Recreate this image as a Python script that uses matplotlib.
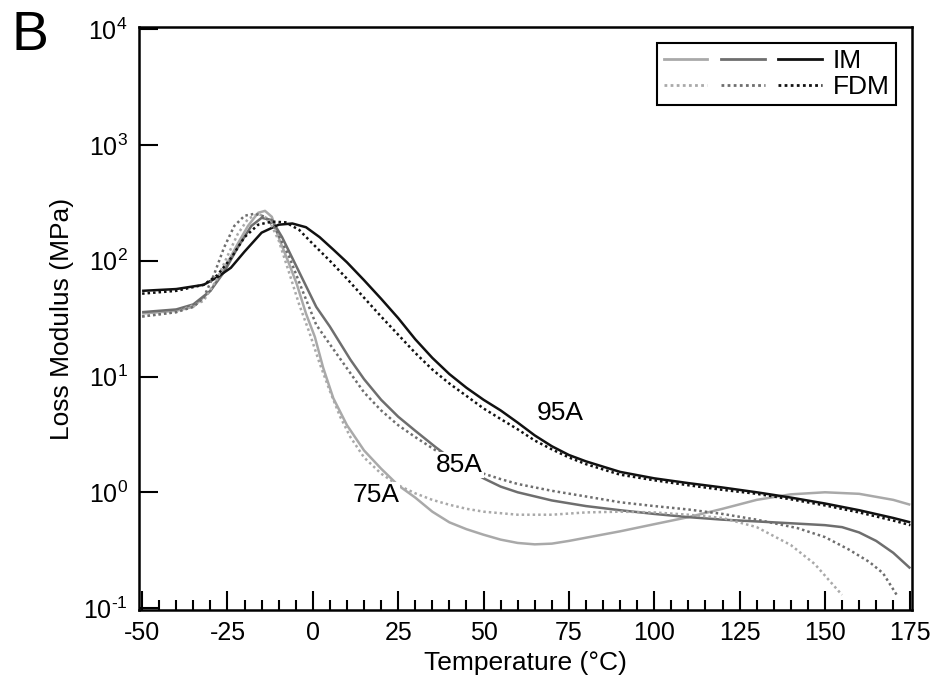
import numpy as np
import matplotlib
matplotlib.use('Agg')
import matplotlib.pyplot as plt
from matplotlib.legend_handler import HandlerTuple
from matplotlib.lines import Line2D
from matplotlib.ticker import LogLocator, MultipleLocator, NullLocator, FuncFormatter

plt.rcParams['font.family'] = ['Liberation Sans', 'DejaVu Sans']
plt.rcParams['mathtext.fontset'] = 'custom'
plt.rcParams['mathtext.rm'] = 'Liberation Sans'
plt.rcParams['axes.unicode_minus'] = False

# 95A injection moulded / printed
t95_im = [-50, -40, -32, -28, -24, -20, -15, -10, -6, -2, 2, 6, 10, 15, 20, 25, 30, 35,
          40, 45, 50, 55, 60, 65, 70, 75, 80, 90, 100, 110, 120, 130, 140, 150, 160, 170, 175]
e95_im = [55, 57, 62, 72, 87, 120, 175, 205, 210, 195, 160, 125, 97, 68, 47, 32, 21, 14.5,
          10.5, 8.0, 6.3, 5.1, 4.0, 3.1, 2.5, 2.1, 1.85, 1.5, 1.32, 1.2, 1.1, 1.0, 0.9, 0.8, 0.7, 0.6, 0.55]
t95_fdm = [-50, -40, -32, -28, -24, -20, -16, -12, -8, -4, 0, 5, 10, 15, 20, 25, 30, 35,
           40, 45, 50, 55, 60, 65, 70, 75, 80, 90, 100, 110, 120, 130, 140, 150, 160, 170, 175]
e95_fdm = [52, 55, 62, 75, 105, 160, 205, 218, 215, 185, 140, 100, 70, 48, 33, 23, 16, 11.5,
           8.7, 6.8, 5.3, 4.3, 3.5, 2.8, 2.35, 2.0, 1.75, 1.42, 1.27, 1.15, 1.05, 0.97, 0.87, 0.77, 0.67, 0.57, 0.52]

# 85A
t85_im = [-50, -40, -35, -30, -26, -22, -18, -15, -12, -9, -4, 1, 5, 11, 15, 20, 25, 30, 36,
          40, 45, 50, 55, 60, 70, 80, 90, 100, 110, 120, 130, 140, 150, 155, 160, 165, 170, 175]
e85_im = [36, 38, 42, 55, 80, 130, 200, 235, 225, 160, 80, 40, 27, 14, 9.5, 6.3, 4.5, 3.4, 2.45,
          2.0, 1.6, 1.32, 1.12, 1.0, 0.85, 0.76, 0.70, 0.65, 0.61, 0.58, 0.56, 0.54, 0.52, 0.50, 0.45, 0.38, 0.30, 0.22]
t85_fdm = [-50, -40, -35, -32, -29, -26, -23, -20, -17, -14, -11, -7, -3, 1, 5, 11, 15, 20, 25, 30, 36,
           40, 45, 50, 55, 60, 70, 80, 90, 100, 110, 120, 130, 142, 150, 157, 163, 167, 171]
e85_fdm = [33, 36, 40, 48, 75, 130, 200, 245, 255, 240, 190, 110, 55, 28, 19, 10.7, 7.3, 5.1, 3.8, 3.0, 2.3,
           2.0, 1.7, 1.45, 1.3, 1.18, 1.03, 0.92, 0.82, 0.76, 0.71, 0.65, 0.58, 0.49, 0.41, 0.32, 0.25, 0.2, 0.13]

# 75A
t75_im = [-50, -40, -35, -30, -26, -22, -19, -16, -14, -12, -9.6, -7, -4.7, -2, 0.6, 3, 6, 10, 15, 20, 25, 30, 35,
          40, 45, 50, 55, 60, 65, 70, 75, 80, 90, 100, 110, 120, 130, 140, 150, 160, 170, 175]
e75_im = [35, 37, 40, 55, 85, 140, 200, 260, 270, 240, 148, 95, 63, 35, 22, 12, 6.5, 3.8, 2.3, 1.6, 1.15, 0.9, 0.68,
          0.55, 0.48, 0.43, 0.39, 0.365, 0.355, 0.36, 0.38, 0.405, 0.46, 0.53, 0.61, 0.72, 0.86, 0.96, 1.0, 0.97, 0.86, 0.78]
t75_fdm = [-50, -40, -32, -28, -25, -22, -19, -16, -13, -10, -7, -4, -1, 2, 5, 8, 11, 15, 20, 25, 30, 35,
           40, 45, 50, 60, 70, 80, 90, 100, 110, 120, 130, 140, 147, 154, 155]
e75_fdm = [33, 36, 45, 70, 110, 170, 230, 255, 230, 150, 80, 42, 24, 13, 7.5, 4.5, 3.0, 2.0, 1.45, 1.15, 0.98, 0.86,
           0.78, 0.72, 0.68, 0.64, 0.64, 0.67, 0.68, 0.67, 0.64, 0.6, 0.5, 0.35, 0.24, 0.14, 0.13]

grades = ['75A', '85A', '95A']
colors = ['#a9a9a9', '#6e6e6e', '#111111']
im_data = [(t75_im, e75_im), (t85_im, e85_im), (t95_im, e95_im)]
fdm_data = [(t75_fdm, e75_fdm), (t85_fdm, e85_fdm), (t95_fdm, e95_fdm)]
label_pos = {'75A': (18.4, 0.94), '85A': (42.8, 1.72), '95A': (72.5, 4.8)}

fig = plt.figure(figsize=(9.37, 6.92), dpi=100)
ax = fig.add_axes([0.148, 0.118, 0.825, 0.843])

dot = (0, (1, 1.2))
for c, (t, e) in zip(colors, im_data):
    ax.plot(t, e, color=c, lw=1.8, solid_capstyle='butt')
for c, (t, e) in zip(colors, fdm_data):
    ax.plot(t, e, color=c, lw=1.8, linestyle=dot)

for g in grades:
    x, y = label_pos[g]
    ax.text(x, y, g, fontsize=19, ha='center', va='center', zorder=5,
            bbox=dict(facecolor='white', edgecolor='none', pad=1.0))

ax.set_yscale('log')
ax.set_xlim(-51, 175.4)
ax.set_ylim(10 ** -1.02, 10 ** 4.02)
ax.xaxis.set_major_locator(MultipleLocator(25))
ax.xaxis.set_minor_locator(MultipleLocator(5))
ax.yaxis.set_major_locator(LogLocator(base=10, numticks=10))
ax.yaxis.set_minor_locator(NullLocator())
# hyphen in the exponent like the original
ax.yaxis.set_major_formatter(FuncFormatter(
    lambda v, p: r'$\mathdefault{10^{\mathrm{%s}}}$' % ('{:d}'.format(int(round(np.log10(v)))).replace('-', '\u2010'))))
ax.tick_params(axis='both', which='major', direction='in', length=14, width=1.5,
               labelsize=18, top=False, right=False, pad=8)
ax.tick_params(axis='x', which='minor', direction='in', length=7, width=1.5, top=False)
for s in ax.spines.values():
    s.set_linewidth(1.8)

ax.set_xlabel('Temperature (°C)', fontsize=19, labelpad=4)
ax.set_ylabel('Loss Modulus (MPa)', fontsize=19, labelpad=6)

h_im = tuple(Line2D([], [], color=c, lw=2.0) for c in colors)
h_fdm = tuple(Line2D([], [], color=c, lw=2.0, linestyle=dot) for c in colors)
leg = ax.legend([h_im, h_fdm], ['IM', 'FDM'],
                handler_map={tuple: HandlerTuple(ndivide=None, pad=0.5)},
                loc='upper right', fontsize=19, handlelength=6.0, handletextpad=0.4,
                fancybox=False, framealpha=1, edgecolor='black', borderpad=0.25,
                labelspacing=0.05, borderaxespad=0.6)
leg.get_frame().set_linewidth(1.5)

fig.text(0.012, 0.985, 'B', fontsize=40, ha='left', va='top')

fig.savefig('out.png', dpi=100)
